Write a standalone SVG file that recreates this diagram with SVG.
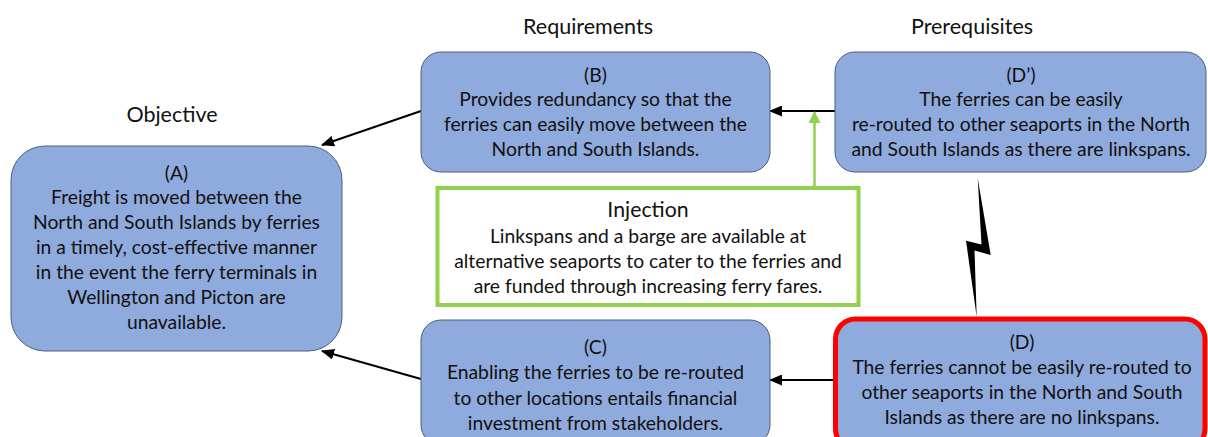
<svg xmlns="http://www.w3.org/2000/svg" width="1208" height="437" viewBox="0 0 1208 437">
  <defs>
    <style>
      .box { fill: #8FAADC; stroke: #4F5F78; stroke-width: 1; }
      .conflict { fill: #8FAADC; stroke: #FF0000; stroke-width: 5; }
      .inj { fill: #FFFFFF; stroke: #92D050; stroke-width: 4; }
      text { font-family: Lato, "Open Sans", "Liberation Sans", sans-serif; fill: #111111; text-anchor: middle; }
      .body { font-size: 19.3px; }
      .head { font-size: 21.5px; }
      .link { stroke: #000000; stroke-width: 2; fill: none; }
      .inject { stroke: #92D050; stroke-width: 2.5; fill: none; }
    </style>
    <marker id="arrow" viewBox="0 0 13 11" refX="12" refY="5.5" markerWidth="13" markerHeight="11" markerUnits="userSpaceOnUse" orient="auto">
      <path d="M0,0 L13,5.5 L0,11 Z" fill="#000000"/>
    </marker>
    <marker id="arrowGreen" viewBox="0 0 12 12" refX="11" refY="6" markerWidth="12" markerHeight="12" markerUnits="userSpaceOnUse" orient="auto">
      <path d="M0,0 L12,6 L0,12 Z" fill="#92D050"/>
    </marker>
  </defs>

  <rect width="1208" height="437" fill="#FFFFFF"/>

  <!-- column headings -->
  <g id="headings">
    <text class="head" x="172" y="122">Objective</text>
    <text class="head" x="588" y="34">Requirements</text>
    <text class="head" x="972" y="34">Prerequisites</text>
  </g>

  <!-- connectors -->
  <g id="connectors">
    <line class="link" x1="421" y1="111" x2="322" y2="145" marker-end="url(#arrow)"/>
    <line class="link" x1="421" y1="379" x2="322" y2="351" marker-end="url(#arrow)"/>
    <line class="link" x1="835" y1="111" x2="770" y2="111" marker-end="url(#arrow)"/>
    <line class="link" x1="833" y1="380" x2="770" y2="380" marker-end="url(#arrow)"/>
    <line class="inject" x1="814.5" y1="186" x2="814.5" y2="112" marker-end="url(#arrowGreen)"/>
    <!-- conflict between D and D' -->
    <polygon id="conflict-bolt" points="977.7,178.3 990.7,255 974.5,250.5 976.7,317 966,240.7 981.5,244.5" fill="#000000"/>
  </g>

  <g id="nodeA">
    <rect class="box" x="11" y="146" width="331" height="205" rx="34" ry="34"/>
    <text class="body" x="176.5" y="180">(A)</text>
    <text class="body" x="176.5" y="204">Freight is moved between the</text>
    <text class="body" x="176.5" y="229">North and South Islands by ferries</text>
    <text class="body" x="176.5" y="254">in a timely, cost-effective manner</text>
    <text class="body" x="176.5" y="279">in the event the ferry terminals in</text>
    <text class="body" x="176.5" y="304">Wellington and Picton are</text>
    <text class="body" x="176.5" y="329">unavailable.</text>
  </g>

  <g id="nodeB">
    <rect class="box" x="421" y="52" width="349" height="120" rx="20" ry="20"/>
    <text class="body" x="595.5" y="81.5">(B)</text>
    <text class="body" x="595.5" y="106">Provides redundancy so that the</text>
    <text class="body" x="595.5" y="131">ferries can easily move between the</text>
    <text class="body" x="595.5" y="156">North and South Islands.</text>
  </g>

  <g id="nodeDprime">
    <rect class="box" x="835" y="52" width="371" height="120" rx="20" ry="20"/>
    <text class="body" x="1021" y="81.5">(D’)</text>
    <text class="body" x="1021" y="106">The ferries can be easily</text>
    <text class="body" x="1021" y="131">re-routed to other seaports in the North</text>
    <text class="body" x="1021" y="156">and South Islands as there are linkspans.</text>
  </g>

  <g id="injection">
    <rect class="inj" x="437.5" y="188" width="421" height="117"/>
    <text x="648" y="217" style="font-size:21.3px">Injection</text>
    <text class="body" x="648" y="243">Linkspans and a barge are available at</text>
    <text class="body" x="648" y="268">alternative seaports to cater to the ferries and</text>
    <text class="body" x="648" y="293">are funded through increasing ferry fares.</text>
  </g>

  <g id="nodeC">
    <rect class="box" x="421" y="320" width="349" height="125" rx="20" ry="20"/>
    <text class="body" x="595.5" y="354">(C)</text>
    <text class="body" x="595.5" y="379">Enabling the ferries to be re-routed</text>
    <text class="body" x="595.5" y="405">to other locations entails financial</text>
    <text class="body" x="595.5" y="430">investment from stakeholders.</text>
  </g>

  <g id="nodeD">
    <rect class="conflict" x="835.5" y="319" width="369.5" height="130" rx="20" ry="20"/>
    <text class="body" x="1022" y="348.5">(D)</text>
    <text class="body" x="1022" y="373.5">The ferries cannot be easily re-routed to</text>
    <text class="body" x="1022" y="398.5">other seaports in the North and South</text>
    <text class="body" x="1022" y="423.5">Islands as there are no linkspans.</text>
  </g>
</svg>
